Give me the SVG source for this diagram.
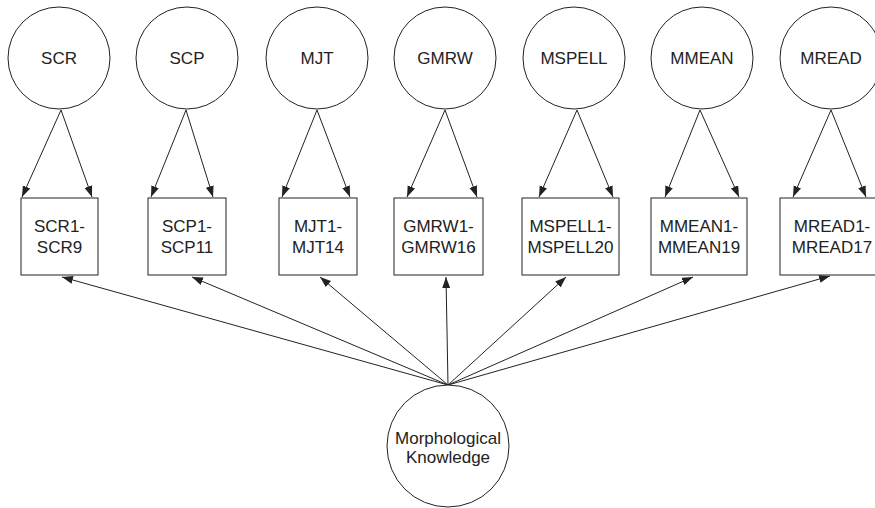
<svg xmlns="http://www.w3.org/2000/svg" width="875" height="508" viewBox="0 0 875 508">
<style>
.n{fill:#fff;stroke:#222;stroke-width:1}
.t{font-family:"Liberation Sans",Arial,sans-serif;font-size:17px;fill:#222;text-anchor:middle}
.e{stroke:#222;stroke-width:1;fill:none;marker-end:url(#ah)}
</style>
<defs>
<marker id="ah" markerUnits="userSpaceOnUse" markerWidth="12" markerHeight="10" refX="11" refY="4" orient="auto">
<path d="M0,0 L11,4 L0,8 Z" fill="#222"/>
</marker>
</defs>
<rect width="875" height="508" fill="#fff"/>
<g id="connectors">
<line class="e" x1="61" y1="110" x2="22" y2="197"/>
<line class="e" x1="61" y1="110" x2="92" y2="197"/>
<line class="e" x1="186" y1="110" x2="151" y2="197"/>
<line class="e" x1="186" y1="110" x2="213" y2="197"/>
<line class="e" x1="317" y1="110" x2="282" y2="197"/>
<line class="e" x1="317" y1="110" x2="350" y2="197"/>
<line class="e" x1="445" y1="110" x2="407" y2="197"/>
<line class="e" x1="445" y1="110" x2="477" y2="197"/>
<line class="e" x1="577" y1="110" x2="539" y2="197"/>
<line class="e" x1="577" y1="110" x2="613" y2="197"/>
<line class="e" x1="700" y1="110" x2="665" y2="197"/>
<line class="e" x1="700" y1="110" x2="739" y2="197"/>
<line class="e" x1="831" y1="110" x2="793" y2="197"/>
<line class="e" x1="831" y1="110" x2="866" y2="197"/>
<line class="e" x1="448" y1="385" x2="62" y2="277"/>
<line class="e" x1="448" y1="385" x2="192" y2="277"/>
<line class="e" x1="448" y1="385" x2="320" y2="277"/>
<line class="e" x1="448" y1="385" x2="446" y2="277"/>
<line class="e" x1="448" y1="385" x2="566" y2="277"/>
<line class="e" x1="448" y1="385" x2="693" y2="277"/>
<line class="e" x1="448" y1="385" x2="830" y2="276"/>
</g>
<g id="SCR"><circle class="n" cx="59" cy="58" r="51"/><text class="t" x="59" y="64">SCR</text></g>
<g id="SCP"><circle class="n" cx="187" cy="58" r="51"/><text class="t" x="187" y="64">SCP</text></g>
<g id="MJT"><circle class="n" cx="317" cy="58" r="51"/><text class="t" x="317" y="64">MJT</text></g>
<g id="GMRW"><circle class="n" cx="445" cy="58" r="51"/><text class="t" x="445" y="64">GMRW</text></g>
<g id="MSPELL"><circle class="n" cx="574" cy="58" r="51"/><text class="t" x="574" y="64">MSPELL</text></g>
<g id="MMEAN"><circle class="n" cx="702" cy="58" r="51"/><text class="t" x="702" y="64">MMEAN</text></g>
<g id="MREAD"><circle class="n" cx="831" cy="58" r="51"/><text class="t" x="831" y="64">MREAD</text></g>
<g id="SCR1-SCR9"><rect class="n" x="21" y="198" width="77" height="77"/><text class="t" x="59.5" y="232">SCR1-</text><text class="t" x="59.5" y="253">SCR9</text></g>
<g id="SCP1-SCP11"><rect class="n" x="148" y="198" width="78" height="77"/><text class="t" x="187" y="232">SCP1-</text><text class="t" x="187" y="253">SCP11</text></g>
<g id="MJT1-MJT14"><rect class="n" x="279" y="198" width="78" height="77"/><text class="t" x="318" y="232">MJT1-</text><text class="t" x="318" y="253">MJT14</text></g>
<g id="GMRW1-GMRW16"><rect class="n" x="394" y="198" width="89" height="77"/><text class="t" x="438.5" y="232">GMRW1-</text><text class="t" x="438.5" y="253">GMRW16</text></g>
<g id="MSPELL1-MSPELL20"><rect class="n" x="522" y="198" width="97" height="77"/><text class="t" x="570.5" y="232">MSPELL1-</text><text class="t" x="570.5" y="253">MSPELL20</text></g>
<g id="MMEAN1-MMEAN19"><rect class="n" x="651" y="198" width="96" height="77"/><text class="t" x="699" y="232">MMEAN1-</text><text class="t" x="699" y="253">MMEAN19</text></g>
<g id="MREAD1-MREAD17"><rect class="n" x="780" y="198" width="104" height="77"/><text class="t" x="832" y="232">MREAD1-</text><text class="t" x="832" y="253">MREAD17</text></g>
<g id="MorphologicalKnowledge"><circle class="n" cx="448" cy="446" r="61"/><text class="t" x="448" y="444">Morphological</text><text class="t" x="448" y="463">Knowledge</text></g>
</svg>
